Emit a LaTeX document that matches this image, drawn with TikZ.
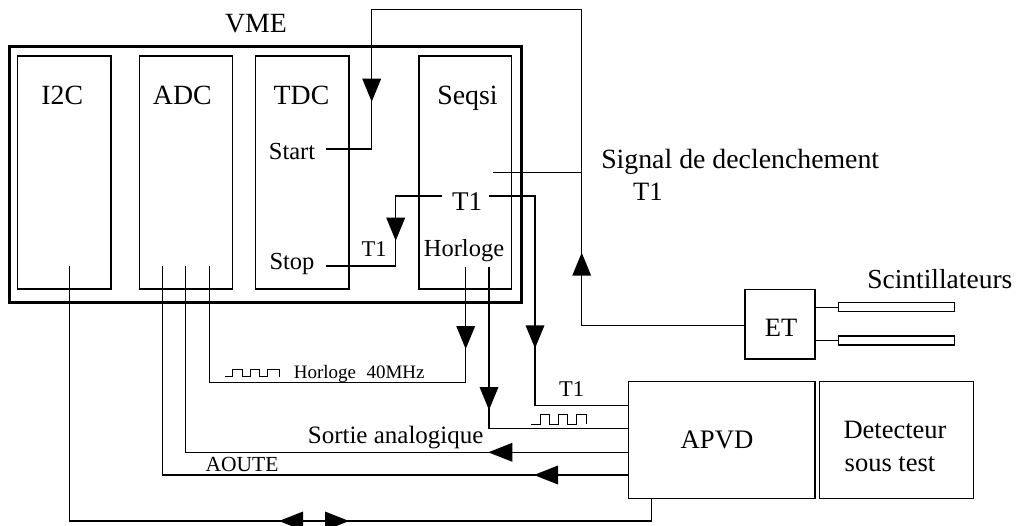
\documentclass[tikz,border=0pt]{standalone}
\usepackage{fontspec}
\setmainfont{Liberation Serif}
\newcommand\ArrDn[2]{\fill (#1,#2) -- ++(-9.5,-23) -- ++(19,0) -- cycle;}
\newcommand\ArrUp[2]{\fill (#1,#2) -- ++(-9.5,23) -- ++(19,0) -- cycle;}
\newcommand\ArrLf[2]{\fill (#1,#2) -- ++(24,-9.5) -- ++(0,19) -- cycle;}
\newcommand\ArrRt[2]{\fill (#1,#2) -- ++(-24,-9.5) -- ++(0,19) -- cycle;}
\begin{document}
\begin{tikzpicture}[x=1pt,y=-1pt,line width=1.1pt,
  box/.style={draw,line width=1.1pt,inner sep=0pt,outer sep=0pt},
  big/.style={inner sep=0pt,anchor=base,font=\fontsize{27.8}{30}\selectfont},
  mid/.style={inner sep=0pt,anchor=base,font=\fontsize{24.5}{28}\selectfont},
  small/.style={inner sep=0pt,anchor=base,font=\fontsize{23}{26}\selectfont},
  tiny/.style={inner sep=0pt,anchor=base west,font=\fontsize{19}{22}\selectfont},
  wire/.style={line width=1.1pt}]
\useasboundingbox (0,0) rectangle (1016,525);
\clip (0,0) rectangle (1016,525);
% boxes
\node[box,line width=3pt,minimum width=512pt,minimum height=255.6pt] (vme) at (265,174.5) {};
\node[box,minimum width=93.3pt,minimum height=233pt] (i2c) at (64.35,172.5) {};
\node[box,minimum width=93pt,minimum height=233pt] (adc) at (185.8,172.5) {};
\node[box,minimum width=93.3pt,minimum height=233pt] (tdc) at (302.35,172.5) {};
\node[box,minimum width=92.7pt,minimum height=233pt] (seqsi) at (465.35,172.5) {};
\node[box,minimum width=186.7pt,minimum height=116.6pt] (apvd) at (721.65,440) {};
\node[box,minimum width=154pt,minimum height=116.6pt] (det) at (896.3,440) {};
\node[box,minimum width=70pt,minimum height=69.7pt] (et) at (780,324.15) {};
\node[box,minimum width=116pt,minimum height=9pt] (sc1) at (896.3,307.2) {};
\node[box,minimum width=116pt,minimum height=9pt] (sc2) at (896.3,340.5) {};
% labels
\node[big] (lvme) at (256,32.6) {VME};
\node[big] (li2c) at (62.3,104) {I2C};
\node[big] (ladc) at (182.3,104) {ADC};
\node[big] (ltdc) at (301.5,104) {TDC};
\node[big] (lseq) at (467.5,104) {Seqsi};
\node[mid,anchor=base east] (lstart) at (315.7,159) {Start};
\node[mid,anchor=base east] (lstop) at (315,269.5) {Stop};
\node[big,font=\fontsize{27}{30}\selectfont] (lt1a) at (467,210.7) {T1};
\node[small,font=\fontsize{22.5}{26}\selectfont] (lt1b) at (374,256.5) {T1};
\node[mid] (lhor) at (464,256.7) {Horloge};
\node[tiny] (lh40) at (293.3,378.3) {Horloge\hspace{0.55em}40MHz};
\node[small,font=\fontsize{22.5}{26}\selectfont] (lt1c) at (571.7,396.7) {T1};
\node[mid,anchor=base west,font=\fontsize{25}{28}\selectfont] (lsort) at (307.3,443.3) {Sortie analogique};
\node[small,anchor=base west,font=\fontsize{21.5}{24}\selectfont] (laou) at (205,471.7) {AOUTE};
\node[big,anchor=base west] (lsig) at (600.7,168.3) {Signal de declenchement};
\node[big,anchor=base west,font=\fontsize{26.5}{30}\selectfont] (lt1d) at (632.5,200) {T1};
\node[big,anchor=base west,font=\fontsize{27.5}{30}\selectfont] (lsci) at (866.7,288.3) {Scintillateurs};
\node[big,font=\fontsize{26.5}{30}\selectfont] (let) at (781,336.7) {ET};
\node[big,font=\fontsize{26.7}{30}\selectfont] (lapvd) at (717,448.3) {APVD};
\node[big,font=\fontsize{26.5}{30}\selectfont] (ldet1) at (895,438.3) {Detecteur};
\node[big,font=\fontsize{26.5}{30}\selectfont] (ldet2) at (890,471.7) {sous test};
% port coordinates
\coordinate (pstart) at (326,149);
\coordinate (pstop) at (326,266);
\coordinate (pseq) at (493,172.3);
\coordinate (pt1l) at (441.7,196);
\coordinate (pt1r) at (489,196);
\coordinate (ph1) at (465.7,266.7);
\coordinate (ph2) at (489,266.7);
\coordinate (pi2c) at (69.3,265.7);
\coordinate (pa1) at (162.7,265.7);
\coordinate (pa2) at (185.7,265.7);
\coordinate (pa3) at (209.3,265.7);
% connectors
\draw[wire] (et.west |- 0,325.7) -- (581.7,325.7) -- (581.7,9.3) -- (371.7,9.3) -- (371.7,149) -- (pstart);
\draw[wire] (pseq) -- (581.7,172.3);
\draw[wire] (pt1l) -- (395.7,196) -- (395.7,266) -- (pstop);
\draw[wire] (pt1r) -- (535,196) -- (535,405.7) -- (apvd.west |- 0,405.7);
\draw[wire] (ph1) -- (465.7,382.3) -- (209.3,382.3) -- (pa3);
\draw[wire] (ph2) -- (489,428.3) -- (apvd.west |- 0,428.3);
\draw[wire] (apvd.west |- 0,452.3) -- (185.7,452.3) -- (pa2);
\draw[wire] (apvd.west |- 0,475) -- (162.7,475) -- (pa1);
\draw[wire] (apvd.south -| 651.7,0) -- (651.7,521) -- (69.3,521) -- (pi2c);
\draw[wire] (et.east |- 0,307.3) -- (sc1.west |- 0,307.3);
\draw[wire] (et.east |- 0,340.5) -- (sc2.west |- 0,340.5);
% clock waveforms
\draw[line width=0.9pt] (225,376.7) -- (232.7,376.7) -- (232.7,369.3) -- (242.7,369.3) -- (242.7,376.7) -- (250,376.7) -- (250,369.3) -- (259.3,369.3) -- (259.3,376.7) -- (267.3,376.7) -- (267.3,369.3) -- (279.3,369.3) -- (279.3,376.7);
\draw[line width=0.9pt] (531,424) -- (540,424) -- (540,414.3) -- (549,414.3) -- (549,424) -- (558.3,424) -- (558.3,414.3) -- (567.7,414.3) -- (567.7,424) -- (576.7,424) -- (576.7,414.3) -- (586,414.3) -- (586,424);
% arrowheads
\ArrDn{371.7}{101.7}
\ArrDn{395.7}{240.7}
\ArrDn{465.7}{349}
\ArrDn{535}{348.3}
\ArrDn{489}{410}
\ArrUp{581.7}{252.7}
\ArrLf{488.3}{452.3}
\ArrLf{534}{475}
\ArrLf{279}{521}
\ArrRt{349}{521}
\end{tikzpicture}
\end{document}
